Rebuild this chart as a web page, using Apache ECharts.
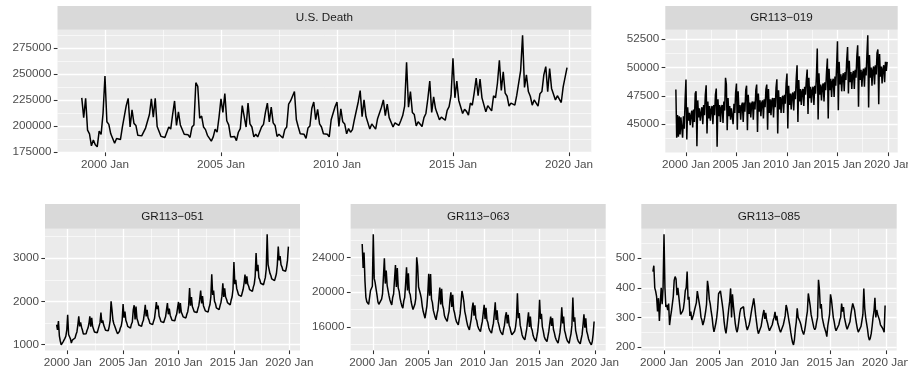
<!DOCTYPE html>
<html>
<head>
<meta charset="utf-8">
<script src="https://cdn.jsdelivr.net/npm/echarts/dist/echarts.min.js"></script>
<style>
  html, body { margin: 0; padding: 0; background: #ffffff; }
  #chart { width: 908px; height: 368px; }
</style>
</head>
<body>
<div id="chart"></div>
<script>
// Monthly series, January 1999 to December 2019 (one row per year)
const startYear = 1999;

const usDeath = [
  227000, 208000, 226500, 196000, 192500, 181000, 186500, 182000, 180000, 195000, 192000, 212000,
  248000, 204000, 201500, 192500, 191000, 183500, 188000, 189000, 187000, 199000, 200000, 219500,
  226500, 199000, 215500, 202500, 200500, 191000, 191500, 190500, 189000, 198000, 196500, 211000,
  226000, 208500, 226500, 199500, 198000, 190000, 191500, 189000, 187500, 199000, 197000, 211000,
  224000, 200500, 213500, 201000, 200000, 192000, 193500, 191500, 189000, 199000, 201000, 241500,
  238000, 207500, 209500, 199000, 196500, 191000, 190000, 185500, 189500, 197000, 194000, 208500,
  226000, 213000, 231000, 205000, 201000, 189500, 191000, 190000, 186000, 194000, 197500, 219500,
  220000, 199000, 222000, 202000, 199000, 189500, 192000, 189500, 188000, 199000, 201500, 213000,
  222000, 204000, 218000, 203000, 200500, 190000, 192000, 192000, 188500, 196500, 199000, 221000,
  224000, 224000, 233000, 206000, 199000, 192500, 191000, 192000, 188000, 198000, 200000, 217000,
  223000, 206000, 216000, 202000, 199000, 192500, 194000, 192000, 189500, 206000, 205500, 218500,
  223000, 199500, 216500, 204000, 202000, 192500, 197500, 194000, 196500, 206000, 207000, 223000,
  234000, 209000, 225000, 209000, 208000, 197000, 202000, 201000, 197000, 207000, 206000, 218000,
  225000, 210000, 221000, 208000, 207000, 199000, 203000, 204000, 200500, 205000, 210000, 219000,
  261000, 218000, 233000, 213000, 211000, 200000, 204000, 205000, 199500, 208000, 212000, 226000,
  243000, 213000, 228000, 216500, 215500, 206000, 208500, 207000, 205500, 215000, 218500, 229000,
  265000, 227000, 243000, 224500, 223000, 212000, 216000, 214000, 210500, 222000, 220000, 232000,
  246000, 229000, 245000, 227000, 225500, 213500, 219500, 219000, 214500, 229000, 227000, 241000,
  263000, 234000, 252000, 231500, 228500, 219000, 222000, 221500, 220000, 229500, 231000, 253000,
  287000, 237000, 249000, 233000, 228500, 220000, 225000, 224000, 219000, 231000, 233000, 249000,
  257000, 233000, 255000, 236000, 236500, 225000, 229000, 228000, 222500, 237500, 239000, 256000
];

const gr113_019 = [
  48060, 43800, 45800, 43900, 45700, 44100, 45600, 45500, 43800, 45700, 44600, 47200,
  48940, 43650, 46500, 45300, 46000, 44900, 45800, 46200, 44700, 46300, 45200, 47700,
  47900, 43060, 47100, 45600, 46400, 45300, 46000, 46500, 45000, 46700, 45800, 47600,
  48440, 44180, 47000, 45500, 46600, 45300, 46300, 46600, 45000, 46700, 45800, 47600,
  48150, 43000, 47200, 45700, 46700, 45200, 46500, 46700, 45100, 47000, 46200, 49090,
  48500, 44470, 47300, 45700, 46600, 45400, 46400, 46500, 45000, 46800, 46000, 47800,
  48590, 44500, 47900, 46000, 46700, 45400, 46600, 46900, 45200, 46900, 46100, 48000,
  48400, 44470, 47600, 45900, 46900, 45600, 46800, 47000, 45400, 47000, 46300, 48000,
  48500, 44300, 47700, 46100, 47100, 45700, 46900, 47100, 45500, 47200, 46500, 48100,
  48500, 44500, 48100, 46000, 47200, 45800, 47100, 47300, 45600, 47300, 46500, 48200,
  48970, 44180, 48000, 46300, 47400, 46000, 47300, 47500, 46000, 47600, 46800, 48600,
  49470, 44620, 48400, 46700, 47700, 46300, 47600, 47800, 46200, 47900, 47200, 49000,
  50200, 45200, 48900, 47000, 48100, 46700, 47900, 48100, 46600, 48300, 47600, 48900,
  49820, 45900, 49100, 47300, 48300, 46900, 48000, 48300, 46700, 48400, 47700, 49300,
  51680, 45410, 49500, 47600, 48500, 47100, 48300, 48600, 47000, 48700, 48000, 49600,
  50790, 45500, 49900, 48000, 49000, 47400, 48800, 49000, 47400, 49200, 48400, 50200,
  52320, 46240, 50500, 48500, 49400, 47900, 49200, 49500, 47900, 49600, 48900, 50700,
  51820, 47700, 50600, 48700, 49600, 48100, 49400, 49700, 48100, 49800, 49100, 51000,
  51970, 46530, 51000, 48900, 49800, 48300, 49600, 49900, 48300, 50000, 49300, 51200,
  52850, 46470, 51100, 49100, 50000, 48400, 49800, 50100, 48500, 50200, 49400, 51300,
  51590, 46760, 51200, 49200, 50100, 48600, 49900, 50200, 48700, 50500, 49700, 50500
];

const gr113_051 = [
  1460, 1340, 1540, 1200, 1080, 990, 1030, 1060, 1070, 1140, 1190, 1330,
  1690, 1230, 1180, 1130, 1030, 1100, 1120, 1110, 1150, 1230, 1290, 1450,
  1650, 1420, 1510, 1400, 1330, 1240, 1260, 1230, 1250, 1330, 1380, 1480,
  1650, 1410, 1620, 1420, 1380, 1290, 1310, 1280, 1270, 1350, 1380, 1500,
  1740, 1500, 1560, 1450, 1420, 1330, 1340, 1310, 1320, 1420, 1560, 2000,
  1800, 1560, 1480, 1420, 1380, 1300, 1250, 1280, 1300, 1380, 1430, 1560,
  1940, 1620, 1760, 1560, 1500, 1420, 1400, 1390, 1380, 1470, 1520, 1800,
  1910, 1580, 1880, 1600, 1540, 1450, 1460, 1430, 1420, 1510, 1560, 1720,
  1920, 1650, 1800, 1620, 1570, 1490, 1500, 1470, 1460, 1540, 1600, 1780,
  1985, 1820, 1900, 1660, 1600, 1530, 1520, 1500, 1510, 1580, 1640, 1800,
  1960, 1700, 1830, 1680, 1640, 1560, 1570, 1540, 1550, 1640, 1700, 1850,
  1985, 1720, 1960, 1750, 1700, 1640, 1650, 1620, 1615, 1700, 1760, 1900,
  2310, 1900, 2100, 1880, 1820, 1760, 1750, 1730, 1740, 1830, 1900, 2050,
  2250, 1950, 2120, 1900, 1840, 1780, 1790, 1760, 1750, 1850, 1920, 2100,
  2630, 2150, 2250, 2000, 1950, 1850, 1830, 1820, 1810, 1900, 1980, 2120,
  2420, 2100, 2300, 2100, 2050, 1970, 1960, 1930, 1920, 2030, 2100, 2280,
  2910, 2400, 2500, 2300, 2230, 2150, 2140, 2120, 2115, 2200, 2280, 2420,
  2620, 2400, 2580, 2400, 2350, 2270, 2260, 2240, 2230, 2330, 2400, 2580,
  3120, 2700, 2850, 2550, 2500, 2420, 2410, 2400, 2385, 2470, 2550, 2750,
  3555, 2850, 2750, 2650, 2600, 2520, 2500, 2490, 2480, 2560, 2640, 2850,
  3270, 2950, 3050, 2850, 2800, 2720, 2700, 2690, 2700, 2800, 2950, 3270
];

const gr113_063 = [
  25580, 22800, 24600, 21300, 19400, 18900, 18700, 18600, 18800, 20200, 20400, 20700,
  26690, 21600, 21100, 20400, 19700, 18900, 18600, 18550, 18700, 19200, 19800, 21800,
  23920, 21000, 22500, 20800, 20700, 19600, 19100, 18800, 18540, 19400, 19800, 21500,
  23150, 20600, 22800, 20500, 20100, 19300, 18800, 18400, 18150, 19000, 19400, 21000,
  22880, 20200, 22200, 20000, 19700, 18900, 18400, 18000, 17770, 18600, 19300, 24040,
  23000, 20600, 20400, 19800, 19300, 18400, 17800, 17400, 17000, 17700, 18400, 19800,
  22120, 19600, 22100, 19200, 18800, 17900, 17500, 17100, 16810, 17500, 18000, 19200,
  20540, 18600, 20400, 18500, 18100, 17300, 17000, 16800, 16620, 17300, 17800, 19100,
  20000, 18300, 19700, 18000, 17600, 17000, 16600, 16400, 16230, 16900, 17500, 18800,
  20150, 19600, 18900, 17800, 17300, 16700, 16200, 15900, 15650, 16300, 16900, 18100,
  18810, 17300, 18500, 17000, 16700, 16100, 15800, 15600, 15460, 16100, 16600, 17600,
  18540, 16900, 18200, 16800, 16500, 15900, 15600, 15400, 15270, 15900, 16400, 17500,
  18850, 16800, 17900, 16600, 16200, 15700, 15400, 15200, 15080, 15700, 16200, 17200,
  17690, 16400, 17400, 16200, 15900, 15400, 15100, 15000, 14880, 15500, 16000, 17000,
  19880, 17000, 17600, 16200, 15700, 15100, 14800, 14600, 14500, 15100, 15700, 16700,
  17690, 16000, 17200, 15900, 15600, 15000, 14700, 14500, 14310, 14900, 15500, 16600,
  19120, 16900, 17500, 16000, 15500, 14900, 14600, 14400, 14300, 14900, 15500, 16400,
  17190, 16100, 17000, 15700, 15300, 14800, 14500, 14300, 14120, 14700, 15300, 16300,
  18270, 16400, 17200, 15600, 15200, 14700, 14400, 14200, 14100, 14700, 15200, 16200,
  19380, 16600, 17100, 15600, 15100, 14600, 14300, 14100, 14050, 14600, 15100, 16200,
  17460, 15900, 17000, 15500, 15100, 14600, 14300, 14100, 13920, 14300, 15200, 16620
];

const gr113_085 = [
  455, 475, 400, 388, 370, 320, 365, 288, 350, 400, 345, 400,
  581, 400, 335, 342, 325, 347, 274, 300, 320, 345, 370, 425,
  438, 430, 375, 400, 370, 340, 310, 308, 320, 330, 355, 390,
  400, 455, 360, 370, 305, 320, 291, 300, 310, 325, 330, 350,
  389, 385, 350, 330, 300, 290, 274, 285, 300, 320, 345, 424,
  400, 360, 345, 320, 300, 270, 251, 265, 280, 300, 330, 380,
  380, 390, 385, 345, 320, 285, 260, 246, 270, 300, 330, 355,
  398, 300, 378, 340, 310, 280, 260, 250, 265, 290, 315, 330,
  330, 325, 336, 305, 290, 270, 257, 262, 275, 290, 310, 330,
  345, 364, 340, 310, 285, 260, 245, 240, 248, 270, 290, 310,
  325, 295, 315, 290, 280, 265, 255, 250, 260, 275, 290, 300,
  319, 290, 305, 280, 270, 258, 250, 245, 255, 275, 290, 305,
  342, 330, 310, 290, 272, 250, 230, 215, 207, 225, 260, 285,
  331, 300, 305, 285, 275, 260, 250, 242, 255, 275, 300, 320,
  381, 375, 340, 310, 295, 280, 265, 258, 265, 285, 300, 427,
  395, 330, 345, 300, 285, 270, 260, 250, 235, 270, 290, 310,
  378, 360, 330, 300, 285, 265, 255, 250, 258, 275, 290, 300,
  347, 320, 335, 300, 285, 270, 260, 255, 265, 285, 310, 330,
  347, 345, 325, 300, 280, 262, 250, 245, 255, 270, 290, 310,
  398, 330, 300, 280, 260, 235, 223, 230, 245, 270, 300, 320,
  366, 300, 325, 310, 300, 290, 275, 270, 265, 258, 250, 340
];

// Axis breaks
const xBreaks = [2000, 2005, 2010, 2015, 2020];
const xMinorBreaks = [2002.5, 2007.5, 2012.5, 2017.5];
const usDeathBreaks = [175000, 200000, 225000, 250000, 275000];
const usDeathMinor = [187500, 212500, 237500, 262500, 287500];
const gr019Breaks = [45000, 47500, 50000, 52500];
const gr019Minor = [43750, 46250, 48750, 51250];
const gr051Breaks = [1000, 2000, 3000];
const gr051Minor = [1500, 2500, 3500];
const gr063Breaks = [16000, 20000, 24000];
const gr063Minor = [14000, 18000, 22000, 26000];
const gr085Breaks = [200, 300, 400, 500];
const gr085Minor = [250, 350, 450, 550];

const titles = ['U.S. Death', 'GR113\u2212019', 'GR113\u2212051', 'GR113\u2212063', 'GR113\u2212085'];

// Panel boxes (pixels): plotting area plus strip above it
const topRow = { stripTop: 6, top: 29.7, height: 122.7 };
const bottomRow = { stripTop: 204, top: 228.8, height: 121.6 };
const panels = [
  { title: titles[0], values: usDeath,   major: usDeathBreaks, minor: usDeathMinor, left: 57.5,  width: 533.8, row: topRow },
  { title: titles[1], values: gr113_019, major: gr019Breaks,   minor: gr019Minor,   left: 665.3, width: 232.4, row: topRow },
  { title: titles[2], values: gr113_051, major: gr051Breaks,   minor: gr051Minor,   left: 45.0,  width: 255.0, row: bottomRow },
  { title: titles[3], values: gr113_063, major: gr063Breaks,   minor: gr063Minor,   left: 350.6, width: 255.1, row: bottomRow },
  { title: titles[4], values: gr113_085, major: gr085Breaks,   minor: gr085Minor,   left: 641.3, width: 255.4, row: bottomRow }
];

const FONT = '"Liberation Sans", Arial, Helvetica, sans-serif';
const AXIS_TEXT = '#4D4D4D';
const TICK = '#333333';

// Continuous-scale padding: 5% of the data range on both sides
function expand(lo, hi) {
  const d = (hi - lo) * 0.05;
  return [lo - d, hi + d];
}

const monthPos = i => startYear + i / 12;
const nMonths = usDeath.length;
const xLim = expand(monthPos(0), monthPos(nMonths - 1));

const grid = [], xAxis = [], yAxis = [], series = [], graphic = [];

panels.forEach((p, gi) => {
  const yLim = expand(Math.min(...p.values), Math.max(...p.values));
  grid.push({
    left: p.left, top: p.row.top, width: p.width, height: p.row.height,
    show: true, backgroundColor: '#EBEBEB', borderWidth: 0,
    containLabel: false, outerBoundsMode: 'none'
  });

  // major x axis (labels, ticks, major grid lines)
  xAxis.push({
    gridIndex: gi, type: 'value', min: xLim[0], max: xLim[1],
    axisLine: { show: false },
    axisTick: { show: true, length: 3.7, customValues: xBreaks, lineStyle: { color: TICK, width: 1.07 } },
    axisLabel: { show: true, customValues: xBreaks, formatter: v => v + ' Jan', color: AXIS_TEXT,
                 fontSize: 11.7, fontFamily: FONT, margin: 6, hideOverlap: false },
    splitLine: { show: true, lineStyle: { color: '#FFFFFF', width: 1.3 } }
  });
  // minor x grid lines
  xAxis.push({
    gridIndex: gi, type: 'value', min: xLim[0], max: xLim[1], position: 'bottom',
    axisLine: { show: false },
    axisTick: { show: false, customValues: xMinorBreaks },
    axisLabel: { show: false, customValues: xMinorBreaks },
    splitLine: { show: true, lineStyle: { color: '#FFFFFF', width: 0.6 } }
  });
  // major y axis
  yAxis.push({
    gridIndex: gi, type: 'value', min: yLim[0], max: yLim[1],
    axisLine: { show: false },
    axisTick: { show: true, length: 3.7, customValues: p.major, lineStyle: { color: TICK, width: 1.07 } },
    axisLabel: { show: true, customValues: p.major, formatter: v => String(v), color: AXIS_TEXT,
                 fontSize: 11.7, fontFamily: FONT, margin: 6 },
    splitLine: { show: true, lineStyle: { color: '#FFFFFF', width: 1.3 } }
  });
  // minor y grid lines
  yAxis.push({
    gridIndex: gi, type: 'value', min: yLim[0], max: yLim[1], position: 'left',
    axisLine: { show: false },
    axisTick: { show: false, customValues: p.minor },
    axisLabel: { show: false, customValues: p.minor },
    splitLine: { show: true, lineStyle: { color: '#FFFFFF', width: 0.6 } }
  });

  series.push({
    type: 'line',
    xAxisIndex: gi * 2, yAxisIndex: gi * 2,
    data: p.values.map((v, i) => [monthPos(i), v]),
    showSymbol: false, symbol: 'none',
    lineStyle: { color: '#000000', width: 1.5 },
    clip: true, z: 3
  });

  // facet strip
  const stripH = p.row.top - p.row.stripTop;
  graphic.push({
    type: 'rect', silent: true, z: 1,
    shape: { x: p.left, y: p.row.stripTop, width: p.width, height: stripH },
    style: { fill: '#D9D9D9' }
  });
  graphic.push({
    type: 'text', silent: true, z: 2,
    x: p.left + p.width / 2, y: p.row.stripTop + stripH / 2,
    style: { text: p.title, fill: '#1A1A1A', font: '11.7px ' + FONT,
             align: 'center', verticalAlign: 'middle',
             textAlign: 'center', textVerticalAlign: 'middle' }
  });
});

const chart = echarts.init(document.getElementById('chart'), null, { renderer: 'canvas' });
chart.setOption({
  animation: false,
  backgroundColor: '#FFFFFF',
  textStyle: { fontFamily: FONT },
  grid, xAxis, yAxis, series, graphic
});
</script>
</body>
</html>
